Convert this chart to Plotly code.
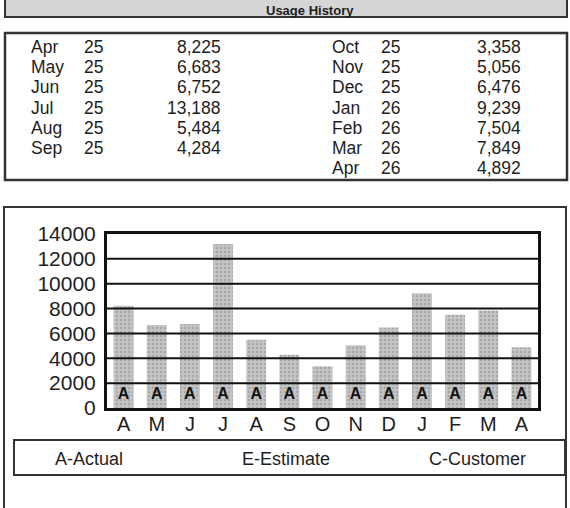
import plotly.graph_objects as go

# usage history read from the bill
table_months = ['Apr', 'May', 'Jun', 'Jul', 'Aug', 'Sep',
                'Oct', 'Nov', 'Dec', 'Jan', 'Feb', 'Mar', 'Apr']
table_years = ['25', '25', '25', '25', '25', '25',
               '25', '25', '25', '26', '26', '26', '26']
usage = [8225, 6683, 6752, 13188, 5484, 4284,
         3358, 5056, 6476, 9239, 7504, 7849, 4892]
month_letters = ['A', 'M', 'J', 'J', 'A', 'S', 'O', 'N', 'D', 'J', 'F', 'M', 'A']
read_codes = ['A'] * 13
y_ticks = [0, 2000, 4000, 6000, 8000, 10000, 12000, 14000]
legend_labels = ['A-Actual', 'E-Estimate', 'C-Customer']
title = 'Usage History'

W, H = 570, 508
FONT = 'Liberation Sans'
INK = '#1e1e1e'


def px(x):
    return x / W


def py(y):
    return 1 - y / H


def rect(x0, y0, x1, y1, **kw):
    return dict(type='rect', xref='paper', yref='paper',
                x0=px(x0), x1=px(x1), y0=py(y1), y1=py(y0), **kw)


def text(x, y, s, size, anchor='left', bold=False, vanchor='middle'):
    return dict(xref='paper', yref='paper', x=px(x), y=py(y), text=s,
                showarrow=False, xanchor=anchor, yanchor=vanchor,
                font=dict(family=FONT, size=size, color=INK,
                          weight='bold' if bold else 'normal'))


fig = go.Figure()
xs = list(range(len(usage)))
fig.add_trace(go.Bar(
    x=xs, y=usage, width=0.6,
    marker=dict(color='#bfbfbf', line=dict(width=0),
                pattern=dict(shape='.', fgcolor='#8c8c8c', bgcolor='#c4c4c4',
                             size=4, solidity=0.3)),
    hoverinfo='y'))
fig.add_trace(go.Scatter(
    x=xs, y=[1050] * len(xs), mode='text', text=read_codes,
    textfont=dict(family=FONT, size=16, color='#111', weight='bold'),
    hoverinfo='skip'))

shapes = []
annotations = []

# header bar
shapes.append(rect(5, -3, 567, 17, fillcolor='#d6d6d6',
                   line=dict(color='#333', width=2)))
annotations.append(text(310, 1, title, 13, anchor='center', bold=True,
                        vanchor='top'))

# table box
shapes.append(rect(5, 33, 567, 180, line=dict(color='#333', width=2.5)))
for i, (m, yr, v) in enumerate(zip(table_months, table_years, usage)):
    col = 0 if i < 6 else 1
    row = i if i < 6 else i - 6
    y = 47 + row * 20.2
    ox = col * 301
    annotations.append(text(29 + ox, y, m, 17.5))
    annotations.append(text(82 + ox - col * 4, y, yr, 17.5))
    annotations.append(text(223 + ox - col, y, f'{v:,}', 17.5, anchor='right'))

# chart box (open at bottom)
shapes.append(dict(type='path', xref='paper', yref='paper',
                   path=f'M {px(4)},{py(515)} L {px(4)},{py(207)} '
                        f'L {px(566)},{py(207)} L {px(566)},{py(515)}',
                   line=dict(color='#333', width=2)))

# grid lines over the bars
for t in y_ticks[1:-1]:
    shapes.append(dict(type='line', xref='x domain', yref='y', x0=0, x1=1,
                       y0=t, y1=t, layer='above',
                       line=dict(color='#111', width=2)))

# legend box
shapes.append(rect(14, 440, 565, 475, line=dict(color='#333', width=2)))
for lab, x in zip(legend_labels, [53, 240, 427]):
    annotations.append(text(x, 459, lab, 18))

fig.update_layout(
    width=W, height=H,
    margin=dict(l=0, r=0, t=0, b=0),
    paper_bgcolor='white', plot_bgcolor='white',
    showlegend=False, bargap=0.4,
    shapes=shapes, annotations=annotations,
    xaxis=dict(domain=[px(107), px(538)], range=[-0.5, 12.5],
               tickvals=xs, ticktext=month_letters, showgrid=False,
               showline=True, mirror=True, linecolor='#111', linewidth=2.5,
               ticks='', ticklabelstandoff=-4, fixedrange=True,
               automargin=False,
               tickfont=dict(family=FONT, size=20, color=INK)),
    yaxis=dict(domain=[py(408), py(234)], range=[0, 14000],
               tickvals=y_ticks, ticktext=[str(t) for t in y_ticks],
               showgrid=False, zeroline=False,
               showline=True, mirror=True, linecolor='#111', linewidth=3,
               ticks='', ticklabelstandoff=4, fixedrange=True,
               automargin=False,
               tickfont=dict(family=FONT, size=21, color=INK)),
)

# pin the figure to the window corner so the page is exactly the figure
pin = ("document.body.style.margin='0';"
       "document.body.style.overflow='hidden';"
       "var d=document.getElementById('{plot_id}');"
       "d.style.position='fixed';d.style.top='0';d.style.left='0';")
fig.write_html('out.html', config={'displayModeBar': False}, post_script=pin)
